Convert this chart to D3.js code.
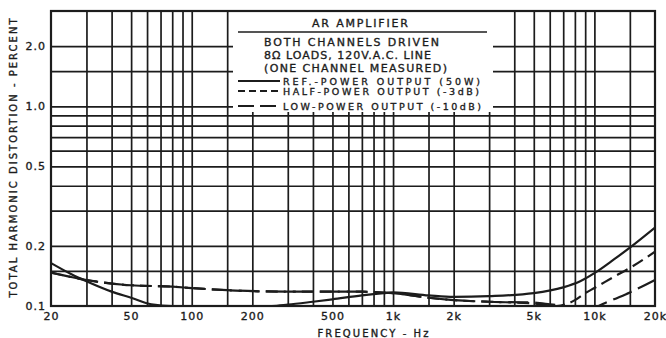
<!DOCTYPE html>
<html>
<head>
<meta charset="utf-8">
<script src="https://cdn.jsdelivr.net/npm/d3@7"></script>
<style>
  body { margin: 0; background: #fff; }
  svg { display: block; }
  text { font-family: "DejaVu Sans", sans-serif; fill: #1c1c1c; stroke: #1c1c1c; stroke-width: 0.35px; }
</style>
</head>
<body>
<svg></svg>
<script>
// REF. power (50 W)
let refHz  = [ 20, 25, 30, 40, 50, 63, 80, 100, 150, 250, 300, 400, 500, 700, 900, 1000, 1500, 2000, 3000, 5000, 7000, 8500, 10000, 12500, 15000, 20000 ]
let refThd = [ 0.164, 0.145, 0.133, 0.118, 0.110, 0.102, 0.100, 0.100, 0.100, 0.100, 0.1015, 0.105, 0.108, 0.113, 0.116, 0.117, 0.113, 0.111, 0.112, 0.116, 0.124, 0.133, 0.146, 0.171, 0.196, 0.247 ]

// half power (-3 dB)
let halfHz  = [ 20, 30, 50, 80, 100, 150, 300, 500, 700, 850, 1000, 1500, 2000, 3000, 5000, 6500, 8000, 9000, 10000, 12500, 15000, 20000 ]
let halfThd = [ 0.147, 0.135, 0.127, 0.125, 0.123, 0.120, 0.118, 0.118, 0.118, 0.117, 0.116, 0.110, 0.107, 0.105, 0.103, 0.100, 0.107, 0.116, 0.123, 0.140, 0.155, 0.187 ]

// low power (-10 dB)
let lowHz  = [ 20, 30, 50, 80, 100, 150, 300, 500, 700, 850, 1000, 1500, 2000, 3000, 5000, 6000, 7000, 8000, 9000, 10000, 10500, 12500, 15000, 20000 ]
let lowThd = [ 0.147, 0.135, 0.127, 0.125, 0.123, 0.120, 0.118, 0.118, 0.118, 0.117, 0.116, 0.110, 0.107, 0.105, 0.104, 0.102, 0.100, 0.097, 0.095, 0.097, 0.100, 0.108, 0.117, 0.135 ]

let xGridHz = [ 30, 40, 50, 60, 70, 80, 90, 100, 150, 200, 300, 400, 500, 600, 700, 800, 900,
  1000, 1500, 2000, 3000, 4000, 5000, 6000, 7000, 8000, 9000, 10000, 15000 ]
let yGridPct = [ 0.15, 0.2, 0.3, 0.4, 0.5, 0.6, 0.7, 0.8, 0.9, 1.0, 1.5, 2.0 ]

let xTicks = [ 20, 50, 100, 200, 500, 1000, 2000, 5000, 10000, 20000 ]
let xTickLabels = [ '20', '50', '100', '200', '500', '1k', '2k', '5k', '10k', '20k' ]
let yTicks = [ 0.1, 0.2, 0.5, 1.0, 2.0 ]
let yTickLabels = [ '0.1', '0.2', '0.5', '1.0', '2.0' ]

let legendNotes = [ 'BOTH CHANNELS DRIVEN', '8Ω LOADS, 120V.A.C. LINE', '(ONE CHANNEL MEASURED)' ]
let seriesNames = [ 'REF.-POWER OUTPUT (50W)', 'HALF-POWER OUTPUT (-3dB)', 'LOW-POWER OUTPUT (-10dB)' ]

let width = 666
let height = 338
let plotLeft = 51, plotRight = 655, plotTop = 11, plotBottom = 306
let ink = '#1c1c1c'

const xScale =
d3.scaleLog()
  .domain( [ 20, 20000 ] )
  .range( [ plotLeft, plotRight ] )

const yScale =
d3.scaleLog()
  .domain( [ 0.1, 3 ] )
  .range( [ plotBottom, plotTop ] )

let chart =
d3.select( 'svg' )
  .attr( 'width', width )
  .attr( 'height', height )

chart.append( 'rect' )
  .attr( 'width', width )
  .attr( 'height', height )
  .attr( 'fill', '#fff' )

// grid
let xGrid =
chart.append( 'g' )
  .attr( 'transform', `translate(0,${ plotBottom })` )
  .call( d3.axisBottom( xScale ).tickValues( xGridHz ).tickSize( -( plotBottom - plotTop ) ).tickFormat( '' ) )

let yGrid =
chart.append( 'g' )
  .attr( 'transform', `translate(${ plotLeft },0)` )
  .call( d3.axisLeft( yScale ).tickValues( yGridPct ).tickSize( -( plotRight - plotLeft ) ).tickFormat( '' ) )

chart.selectAll( '.domain' ).remove()
chart.selectAll( '.tick line' )
  .attr( 'stroke', ink )
  .attr( 'stroke-width', 1.7 )

// legend box hides grid
chart.append( 'rect' )
  .attr( 'x', 233 )
  .attr( 'y', plotTop )
  .attr( 'width', 260 )
  .attr( 'height', 101 )
  .attr( 'fill', '#fff' )

// frame
chart.append( 'rect' )
  .attr( 'x', plotLeft )
  .attr( 'y', plotTop )
  .attr( 'width', plotRight - plotLeft )
  .attr( 'height', plotBottom - plotTop )
  .attr( 'fill', 'none' )
  .attr( 'stroke', ink )
  .attr( 'stroke-width', 2.2 )

// tick labels
let xLabels =
chart.append( 'g' )
  .attr( 'transform', `translate(0,${ plotBottom })` )
  .call( d3.axisBottom( xScale ).tickValues( xTicks ).tickSize( 0 ).tickPadding( 6 )
    .tickFormat( ( d, i ) => xTickLabels[ i ] ) )

let yLabels =
chart.append( 'g' )
  .attr( 'transform', `translate(${ plotLeft },0)` )
  .call( d3.axisLeft( yScale ).tickValues( yTicks ).tickSize( 0 ).tickPadding( 5 )
    .tickFormat( ( d, i ) => yTickLabels[ i ] ) )

chart.selectAll( '.domain' ).remove()
xLabels.selectAll( 'text' )
  .attr( 'font-size', 11 )
  .attr( 'letter-spacing', 1 )
  .attr( 'fill', ink )
yLabels.selectAll( 'text' )
  .attr( 'font-size', 11 )
  .attr( 'letter-spacing', 1 )
  .attr( 'fill', ink )

// axis titles
chart.append( 'text' )
  .text( 'FREQUENCY - Hz' )
  .attr( 'x', 373 )
  .attr( 'y', 337 )
  .attr( 'text-anchor', 'middle' )
  .attr( 'font-size', 10 )
  .attr( 'textLength', 111 )
  .attr( 'lengthAdjust', 'spacing' )

chart.append( 'text' )
  .text( 'TOTAL HARMONIC DISTORTION - PERCENT' )
  .attr( 'transform', 'translate(17,158) rotate(-90)' )
  .attr( 'text-anchor', 'middle' )
  .attr( 'font-size', 10 )
  .attr( 'textLength', 279 )
  .attr( 'lengthAdjust', 'spacing' )

// legend
chart.append( 'text' )
  .text( 'AR AMPLIFIER' )
  .attr( 'x', 360 )
  .attr( 'y', 27 )
  .attr( 'text-anchor', 'middle' )
  .attr( 'font-size', 11 )
  .attr( 'textLength', 96 )
  .attr( 'lengthAdjust', 'spacing' )

chart.append( 'line' )
  .attr( 'x1', 238 ).attr( 'x2', 487 )
  .attr( 'y1', 32 ).attr( 'y2', 32 )
  .attr( 'stroke', ink )
  .attr( 'stroke-width', 1.6 )

let noteY = [ 46, 59, 72 ]
let noteLen = [ 175, 167, 183 ]
chart.selectAll( 'text.note' )
  .data( legendNotes )
  .enter()
  .append( 'text' )
  .attr( 'class', 'note' )
  .text( d => d )
  .attr( 'x', 264 )
  .attr( 'y', ( d, i ) => noteY[ i ] )
  .attr( 'font-size', 11 )
  .attr( 'textLength', ( d, i ) => noteLen[ i ] )
  .attr( 'lengthAdjust', 'spacing' )

let dashes = [ null, '7,4', '16,6' ]
let keyY = [ 81, 91, 106 ]
let keyLen = [ 197, 196, 198 ]

chart.selectAll( 'line.key' )
  .data( seriesNames )
  .enter()
  .append( 'line' )
  .attr( 'class', 'key' )
  .attr( 'x1', 238 ).attr( 'x2', 280 )
  .attr( 'y1', ( d, i ) => keyY[ i ] )
  .attr( 'y2', ( d, i ) => keyY[ i ] )
  .attr( 'stroke', ink )
  .attr( 'stroke-width', 2 )
  .attr( 'stroke-dasharray', ( d, i ) => dashes[ i ] )

chart.selectAll( 'text.key' )
  .data( seriesNames )
  .enter()
  .append( 'text' )
  .attr( 'class', 'key' )
  .text( d => d )
  .attr( 'x', 283 )
  .attr( 'y', ( d, i ) => keyY[ i ] + 3.5 )
  .attr( 'font-size', 9.5 )
  .attr( 'textLength', ( d, i ) => keyLen[ i ] )
  .attr( 'lengthAdjust', 'spacing' )

// curves
chart.append( 'clipPath' )
  .attr( 'id', 'plot' )
  .append( 'rect' )
  .attr( 'x', plotLeft )
  .attr( 'y', plotTop )
  .attr( 'width', plotRight - plotLeft )
  .attr( 'height', plotBottom - plotTop + 1 )

let line =
d3.line()
  .x( d => xScale( d[ 0 ] ) )
  .y( d => yScale( d[ 1 ] ) )
  .curve( d3.curveMonotoneX )

let series = [
  { hz: refHz, thd: refThd, dash: null },
  { hz: halfHz, thd: halfThd, dash: '12,6' },
  { hz: lowHz, thd: lowThd, dash: '20,7' }
]

chart.append( 'g' )
  .attr( 'clip-path', 'url(#plot)' )
  .selectAll( 'path' )
  .data( series )
  .enter()
  .append( 'path' )
  .attr( 'd', s => line( s.hz.map( ( h, i ) => [ h, s.thd[ i ] ] ) ) )
  .attr( 'fill', 'none' )
  .attr( 'stroke', ink )
  .attr( 'stroke-width', 2.2 )
  .attr( 'stroke-dasharray', s => s.dash )
</script>
</body>
</html>
